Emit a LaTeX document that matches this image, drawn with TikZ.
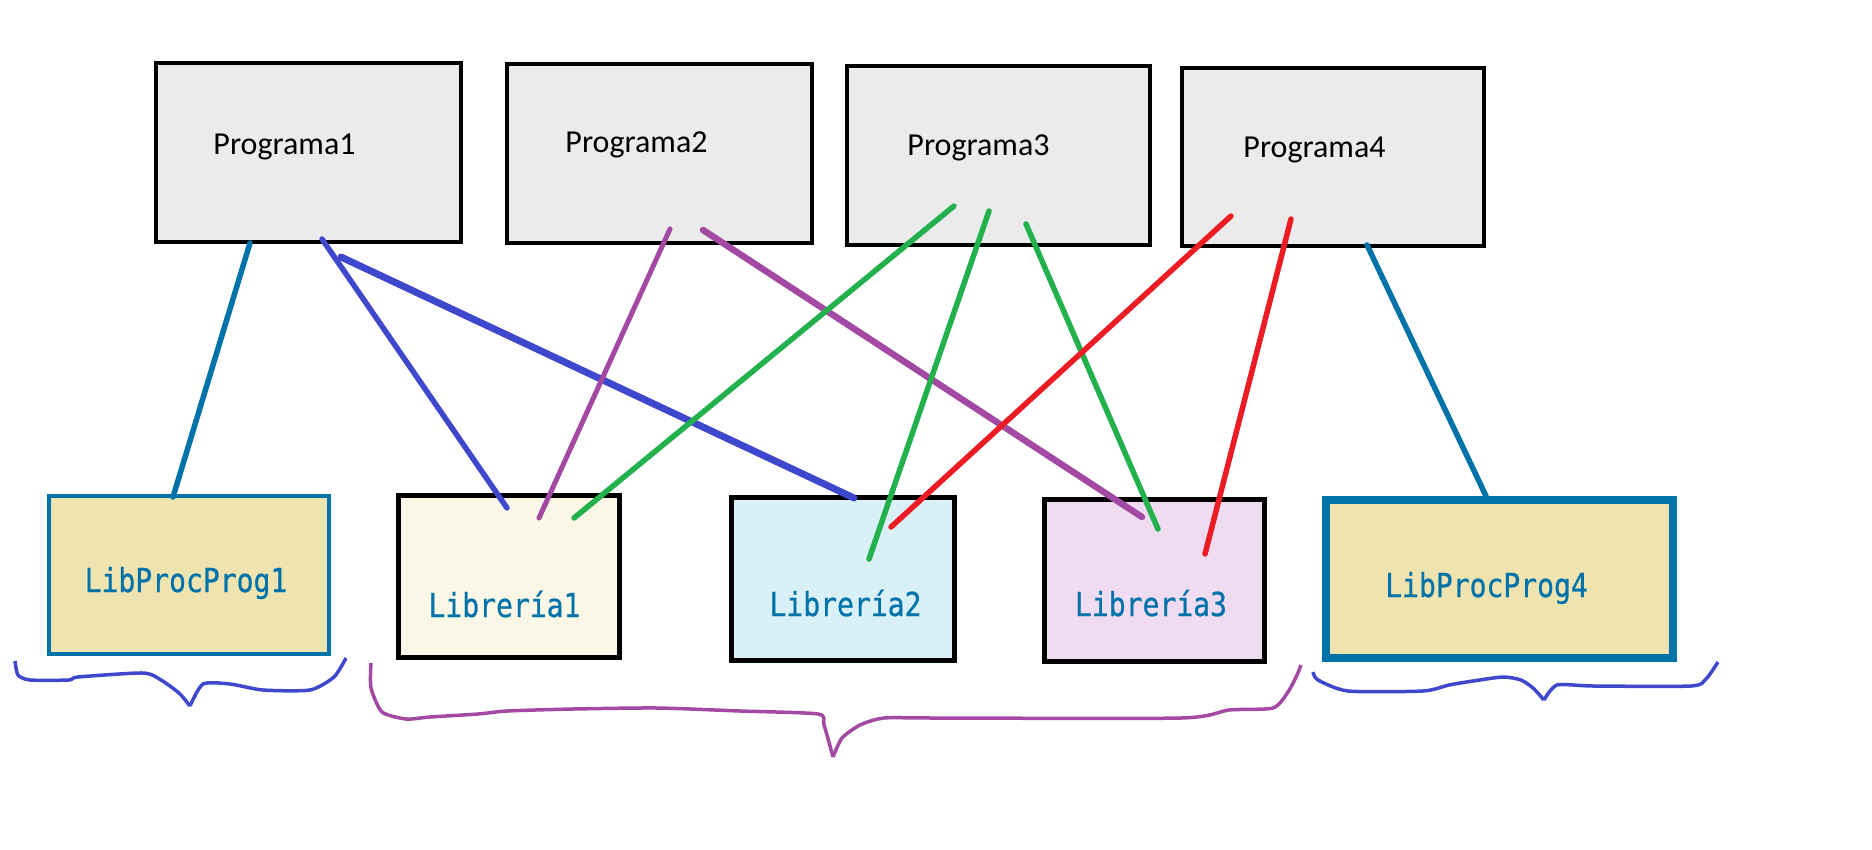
\documentclass[tikz,border=0pt]{standalone}
\usepackage{fontspec}
\setmainfont{Carlito}
\newfontfamily\libfont{DejaVu Sans Mono}[FakeStretch=0.85,FakeBold=0.6]
\usetikzlibrary{calc}
\definecolor{tealc}{RGB}{0,114,170}
\definecolor{bluec}{RGB}{63,72,204}
\definecolor{purplec}{RGB}{163,73,164}
\definecolor{greenc}{RGB}{34,177,76}
\definecolor{redc}{RGB}{237,28,36}
\definecolor{grayc}{RGB}{235,235,235}
\definecolor{khaki}{RGB}{239,228,176}
\definecolor{cream}{RGB}{250,247,230}
\definecolor{skyc}{RGB}{218,240,247}
\definecolor{lilac}{RGB}{240,220,240}

\begin{document}
\begin{tikzpicture}[x=1pt,y=-1pt,
  prog/.style={rectangle, draw=black, line width=4pt, fill=grayc, inner sep=0pt, minimum width=305pt, minimum height=179pt},
  lib/.style={rectangle, draw=black, line width=5pt, inner sep=0pt, minimum width=221pt, minimum height=162pt},
  proc/.style={rectangle, draw=tealc, fill=khaki, inner sep=0pt, minimum width=280pt, minimum height=158pt},
  progtxt/.style={anchor=base, inner sep=0pt, font=\fontsize{32}{36}\selectfont},
  libtxt/.style={anchor=base, inner sep=0pt, text=tealc, font=\libfont\fontsize{33}{36}\selectfont},
  link/.style={line width=5.5pt, line cap=round},
  brace/.style={line width=3.5pt, line join=round}]
 \useasboundingbox (0,0) rectangle (1872,849);
 % programas
 \node (p1) [prog] at (308.5,152.5) {};
 \node (p2) [prog] at (659.5,153.5) {};
 \node (p3) [prog, minimum width=303pt] at (998.5,155.5) {};
 \node (p4) [prog, minimum width=302pt, minimum height=178pt] at (1333,157) {};
 \node (t1) [progtxt] at (284.5,154) {Programa1};
 \node (t2) [progtxt] at (636.5,152) {Programa2};
 \node (t3) [progtxt] at (978.5,155) {Programa3};
 \node (t4) [progtxt] at (1314.5,157) {Programa4};
 % librerias
 \node (l0) [proc, line width=4pt] at (189,575) {};
 \node (l1) [lib, fill=cream] at (509,576.5) {};
 \node (l2) [lib, fill=skyc, minimum width=223pt, minimum height=163pt] at (843,579) {};
 \node (l3) [lib, fill=lilac, minimum width=220pt] at (1154.5,580.5) {};
 \node (l4) [proc, line width=8pt, minimum width=347pt] at (1499.5,579) {};
 \node (s0) [libtxt] at (186,592) {LibProcProg1};
 \node (s1) [libtxt] at (504.5,617) {Librería1};
 \node (s2) [libtxt] at (845.5,616) {Librería2};
 \node (s3) [libtxt] at (1151,616) {Librería3};
 \node (s4) [libtxt] at (1486.5,597) {LibProcProg4};
 % enlaces
 \draw[link, tealc] ($(p1)+(-58.5,90.5)$) -- ($(l0)+(-16,-78)$);
 \draw[link, bluec] ($(p1)+(13.5,86.5)$) -- ($(l1)+(-2,-68.5)$);
 \draw[link, bluec, line width=7pt] ($(p1)+(32.5,104.5)$) -- ($(l2)+(11,-81)$);
 \draw[link, purplec, line width=5pt] ($(p2)+(10.5,75.5)$) -- ($(l1)+(30,-58.5)$);
 \draw[link, purplec, line width=6.5pt] ($(p2)+(43.5,76.5)$) -- ($(l3)+(-12.5,-63.5)$);
 \draw[link, greenc] ($(p3)+(-44.5,50.5)$) -- ($(l1)+(65,-58.5)$);
 \draw[link, greenc] ($(p3)+(-9.5,55.5)$) -- ($(l2)+(26,-20)$);
 \draw[link, greenc] ($(p3)+(27.5,68.5)$) -- ($(l3)+(3.5,-51.5)$);
 \draw[link, redc] ($(p4)+(-102,59)$) -- ($(l2)+(48,-52)$);
 \draw[link, redc] ($(p4)+(-42,62)$) -- ($(l3)+(50.5,-26.5)$);
 \draw[link, tealc] ($(p4)+(34,88)$) -- ($(l4)+(-13.5,-83)$);
 % llaves
 \draw[brace, bluec] plot[smooth, tension=0.4] coordinates {(15,661) (18,675) (30,680) (69,680) (78,677) (143,673) (161,680) (179,693) (190,706)};
 \draw[brace, bluec] plot[smooth, tension=0.4] coordinates {(190,706) (203,684) (230,684) (263,690) (310,690) (334,677) (346,658)};
 \draw[brace, purplec] plot[smooth, tension=0.4] coordinates {(371,663) (371,688) (382,712) (406,719) (430,717) (478,714) (507,711) (573,709) (657,708) (740,711) (818,714) (824,725) (833,757)};
 \draw[brace, purplec] plot[smooth, tension=0.4] coordinates {(833,757) (842,738) (860,725) (884,718) (936,718) (1181,718) (1229,710) (1273,708) (1288,692) (1297,675) (1301,665)};
 \draw[brace, bluec] plot[smooth, tension=0.4] coordinates {(1313,672) (1318,680) (1348,691) (1423,691) (1449,685) (1473,681) (1503,677) (1521,680) (1533,688) (1544,700)};
 \draw[brace, bluec] plot[smooth, tension=0.4] coordinates {(1544,700) (1557,685) (1593,686) (1691,686) (1706,679) (1718,662)};
\end{tikzpicture}
\end{document}
